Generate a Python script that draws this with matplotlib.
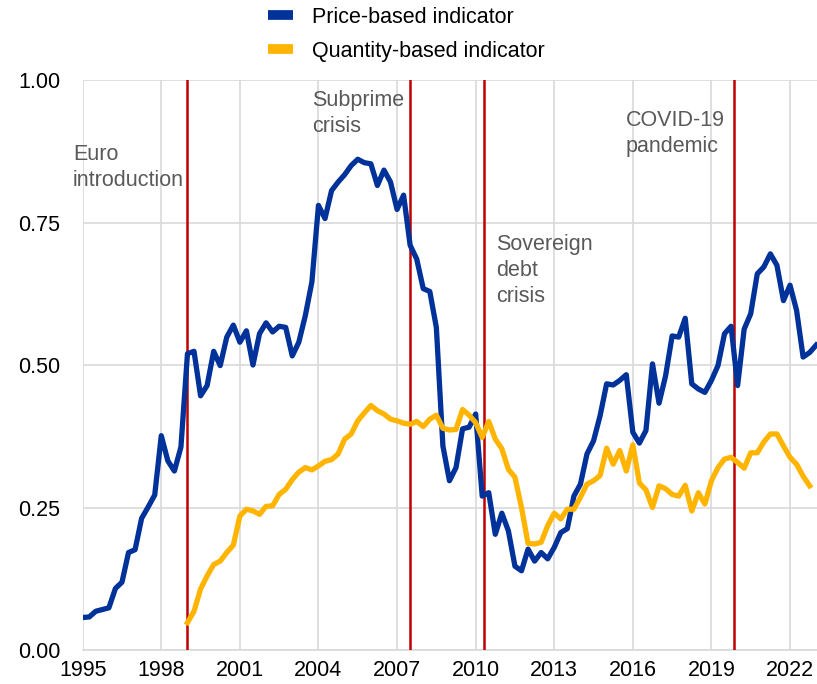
import numpy as np
import matplotlib.pyplot as plt
from matplotlib.lines import Line2D

# quarterly values, price-based from 1995Q1, quantity-based from 1999Q1
price_based = [
    0.057, 0.058, 0.068, 0.071,  # 1995
    0.074, 0.108, 0.119, 0.171,  # 1996
    0.176, 0.231, 0.251, 0.272,  # 1997
    0.376, 0.332, 0.314, 0.356,  # 1998
    0.520, 0.524, 0.446, 0.464,  # 1999
    0.524, 0.499, 0.549, 0.570,  # 2000
    0.540, 0.560, 0.500, 0.555,  # 2001
    0.574, 0.558, 0.568, 0.566,  # 2002
    0.516, 0.540, 0.587, 0.646,  # 2003
    0.780, 0.757, 0.806, 0.821,  # 2004
    0.834, 0.850, 0.861, 0.855,  # 2005
    0.853, 0.815, 0.842, 0.821,  # 2006
    0.773, 0.798, 0.710, 0.686,  # 2007
    0.634, 0.629, 0.566, 0.358,  # 2008
    0.297, 0.320, 0.388, 0.391,  # 2009
    0.414, 0.270, 0.276, 0.203,  # 2010
    0.240, 0.209, 0.147, 0.139,  # 2011
    0.177, 0.156, 0.171, 0.160,  # 2012
    0.180, 0.206, 0.213, 0.270,  # 2013
    0.291, 0.344, 0.367, 0.411,  # 2014
    0.467, 0.465, 0.473, 0.483,  # 2015
    0.382, 0.363, 0.385, 0.502,  # 2016
    0.433, 0.481, 0.551, 0.549,  # 2017
    0.582, 0.467, 0.458, 0.452,  # 2018
    0.473, 0.499, 0.555, 0.568,  # 2019
    0.464, 0.563, 0.590, 0.660,  # 2020
    0.672, 0.695, 0.675, 0.613,  # 2021
    0.640, 0.596, 0.514, 0.522,  # 2022
    0.535,                       # 2023
]
quantity_based = [
    0.048, 0.068, 0.107, 0.130,  # 1999
    0.150, 0.156, 0.171, 0.184,  # 2000
    0.235, 0.247, 0.244, 0.238,  # 2001
    0.252, 0.253, 0.273, 0.282,  # 2002
    0.299, 0.312, 0.320, 0.316,  # 2003
    0.323, 0.331, 0.334, 0.344,  # 2004
    0.370, 0.379, 0.402, 0.416,  # 2005
    0.429, 0.420, 0.414, 0.405,  # 2006
    0.402, 0.398, 0.396, 0.401,  # 2007
    0.392, 0.405, 0.412, 0.389,  # 2008
    0.386, 0.387, 0.422, 0.412,  # 2009
    0.399, 0.373, 0.401, 0.370,  # 2010
    0.353, 0.317, 0.303, 0.250,  # 2011
    0.187, 0.186, 0.189, 0.218,  # 2012
    0.240, 0.230, 0.247, 0.247,  # 2013
    0.268, 0.291, 0.297, 0.306,  # 2014
    0.354, 0.326, 0.350, 0.314,  # 2015
    0.360, 0.293, 0.281, 0.250,  # 2016
    0.288, 0.283, 0.273, 0.270,  # 2017
    0.289, 0.244, 0.276, 0.256,  # 2018
    0.297, 0.320, 0.335, 0.338,  # 2019
    0.329, 0.319, 0.346, 0.346,  # 2020
    0.365, 0.379, 0.379, 0.358,  # 2021
    0.338, 0.326, 0.305, 0.288,  # 2022
]

events = [1999.0, 2007.5, 2010.3, 2019.85]
event_labels = ["Euro\nintroduction", "Subprime\ncrisis", "Sovereign\ndebt\ncrisis", "COVID-19\npandemic"]
label_pos = [(1994.63, 0.888), (2003.75, 0.983), (2010.78, 0.730), (2015.74, 0.947)]

year_ticks = list(range(1995, 2023, 3))
y_ticks = [0.0, 0.25, 0.5, 0.75, 1.0]

blue = "#003299"
yellow = "#FFB400"
red = "#C00000"
grey_text = "#595959"

plt.rcParams['font.family'] = ['Liberation Sans', 'DejaVu Sans']

x_price = 1995 + np.arange(len(price_based)) / 4
x_qty = 1999 + np.arange(len(quantity_based)) / 4

fig = plt.figure(figsize=(8.17, 6.84), dpi=100)
ax = fig.add_axes([0.1012, 0.0497, 0.8988, 0.8333])

for ev in events:
    ax.axvline(ev, color=red, lw=1.8, zorder=3)

ax.plot(x_price, price_based, color=blue, lw=3.8, zorder=4, solid_joinstyle='round')
ax.plot(x_qty, quantity_based, color=yellow, lw=3.8, zorder=4, solid_joinstyle='round')

for (tx, ty), lab in zip(label_pos, event_labels):
    ax.text(tx, ty, lab, color=grey_text, fontsize=15.5, va='top', ha='left',
            linespacing=1.3, zorder=5, clip_on=False)

ax.set_xlim(1995, 2023.03)
ax.set_ylim(0, 1)
ax.set_xticks(year_ticks)
ax.set_yticks(y_ticks)
ax.set_yticklabels([f"{v:.2f}" for v in y_ticks])
ax.tick_params(axis='both', length=0, labelsize=15.5, colors='black')
ax.tick_params(axis='y', pad=16)
ax.tick_params(axis='x', pad=7)
ax.grid(True, color='#d9d9d9', lw=1.2)
ax.set_axisbelow(True)
for side in ['top', 'right', 'left']:
    ax.spines[side].set_visible(False)
ax.spines['bottom'].set_color('#d9d9d9')
ax.spines['bottom'].set_linewidth(1.2)

handles = [Line2D([0], [0], color=blue, lw=7, solid_capstyle='butt'),
           Line2D([0], [0], color=yellow, lw=7, solid_capstyle='butt')]
fig.legend(handles, ["Price-based indicator", "Quantity-based indicator"],
           loc='center', bbox_to_anchor=(0.497, 0.950), frameon=False,
           fontsize=15.5, handlelength=1.2, handletextpad=0.85, labelspacing=0.62)

fig.savefig("out.png", dpi=100)
